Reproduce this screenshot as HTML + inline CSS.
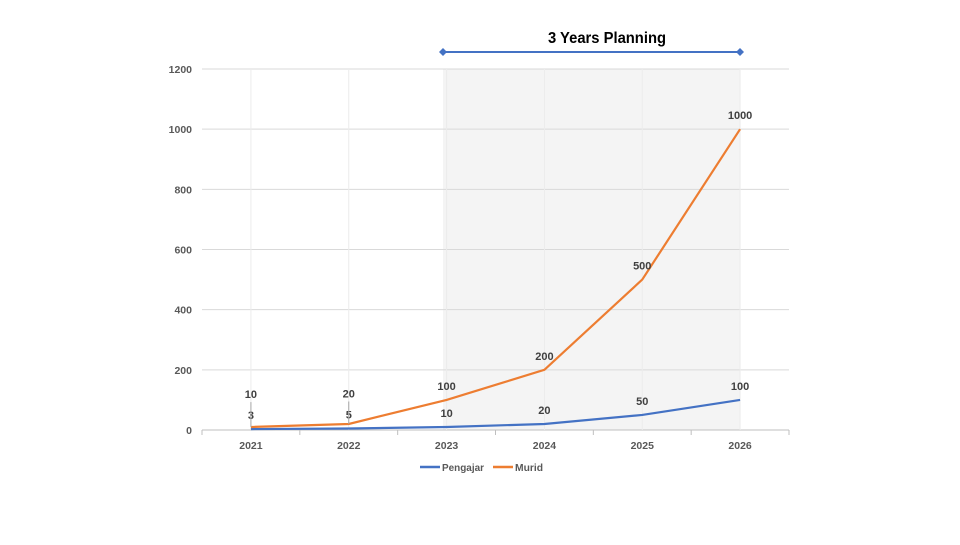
<!DOCTYPE html>
<html><head><meta charset="utf-8"><style>
body{margin:0;background:#fff;width:960px;height:540px;overflow:hidden}
text{font-family:"Liberation Sans",sans-serif}
</style></head><body>
<svg id="chart" width="960" height="540">
<rect x="443" y="69" width="297" height="361" fill="#f4f4f4"/>
<text x="607" y="43" text-anchor="middle" font-size="15.5" font-weight="bold" fill="#000" textLength="118" lengthAdjust="spacingAndGlyphs">3 Years Planning</text>
<line x1="443" y1="52" x2="740" y2="52" stroke="#4472c4" stroke-width="2"/>
<path d="M439 52 L443 48 L447 52 L443 56Z M736 52 L740 48 L744 52 L740 56Z" fill="#4472c4"/>
<g id="g"></g>
<g>
<line x1="420" y1="467" x2="440" y2="467" stroke="#4472c4" stroke-width="2.5"/>
<text x="442" y="471" font-size="10.5" font-weight="bold" fill="#595959" textLength="42" lengthAdjust="spacingAndGlyphs">Pengajar</text>
<line x1="493" y1="467" x2="513" y2="467" stroke="#ed7d31" stroke-width="2.5"/>
<text x="515" y="471" font-size="10.5" font-weight="bold" fill="#595959" textLength="28" lengthAdjust="spacingAndGlyphs">Murid</text>
</g>
</svg>
<script>
const categories=["2021","2022","2023","2024","2025","2026"];
const pengajar=[3,5,10,20,50,100];
const murid=[10,20,100,200,500,1000];
const yTicks=[0,200,400,600,800,1000,1200];
const NS="http://www.w3.org/2000/svg";
const g=document.getElementById("g");
const L=202,R=789,T=69,B=430,yMax=1200;
const bw=(R-L)/categories.length;
const x=i=>L+bw*(i+0.5);
const y=v=>B-(v/yMax)*(B-T);
function mk(t,a,txt){const e=document.createElementNS(NS,t);for(const k in a)e.setAttribute(k,a[k]);if(txt!=null)e.textContent=txt;g.appendChild(e);return e;}
yTicks.forEach(v=>{
 const l=mk("line",{x1:L,x2:R,y1:y(v),y2:y(v),stroke:v?"#d9d9d9":"#bfbfbf","stroke-width":1});
 
 
 const t=mk("text",{x:L-10,y:y(v)+4,"text-anchor":"end","font-size":10.5,"font-weight":"bold",fill:"#595959"},v);
 
 
});
categories.forEach((c,i)=>{
 const v=mk("line",{x1:x(i),x2:x(i),y1:T,y2:B,stroke:"#ececec","stroke-width":1});
 
 
 const tk=mk("line",{x1:L+bw*i,x2:L+bw*i,y1:B,y2:B+5,stroke:"#bfbfbf"});
 
 
 const t=mk("text",{x:x(i),y:B+19,"text-anchor":"middle","font-size":10.5,"font-weight":"bold",fill:"#595959"},c);
 
 
});
const tkr=mk("line",{x1:R,x2:R,y1:B,y2:B+5,stroke:"#bfbfbf"});


const pp=mk("polyline",{points:pengajar.map((v,i)=>x(i)+","+y(v)).join(" "),fill:"none",stroke:"#4472c4","stroke-width":2.2});


pengajar.forEach((v,i)=>{
 const ly=y(v)-10;
 const t=mk("text",{x:x(i),y:ly,"text-anchor":"middle","font-size":11,"font-weight":"bold",fill:"#404040"},v);
 
 
});
const mp=mk("polyline",{points:murid.map((v,i)=>x(i)+","+y(v)).join(" "),fill:"none",stroke:"#ed7d31","stroke-width":2.2});


murid.forEach((v,i)=>{
 let ly=y(v)-10;
 const minY=y(pengajar[i])-31;
 if(ly>minY){
  ly=minY;
  const ld=mk("line",{x1:x(i),x2:x(i),y1:ly+4,y2:y(v),stroke:"#a6a6a6"});
  
  
 }
 const t=mk("text",{x:x(i),y:ly,"text-anchor":"middle","font-size":11,"font-weight":"bold",fill:"#404040"},v);
 
 
});
</script>
</body></html>
